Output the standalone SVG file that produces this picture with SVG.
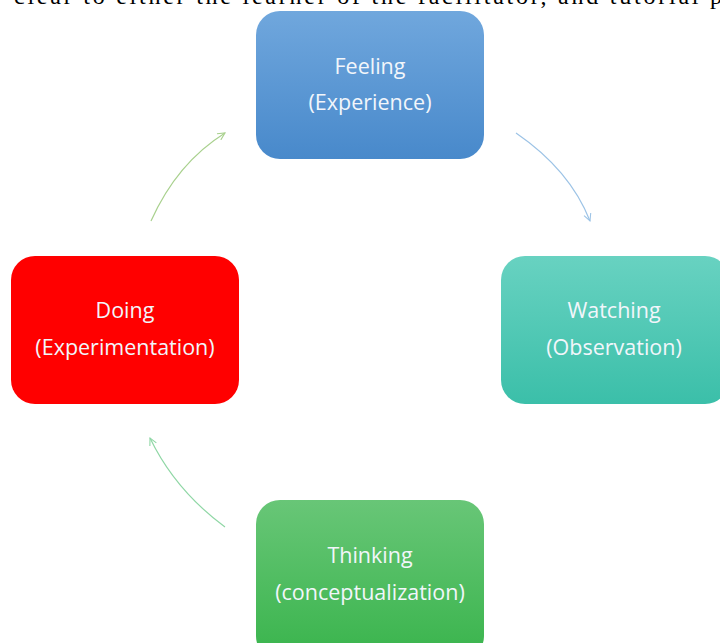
<svg xmlns="http://www.w3.org/2000/svg" width="720" height="643" viewBox="0 0 720 643">
<style>
.lbl{font-family:"Open Sans","Noto Sans",sans-serif;font-size:21.5px;fill:#f2f6fb;text-anchor:middle}
.conn{fill:none;stroke-width:1.2}
.top{font-family:"Liberation Serif",serif;font-size:24px;fill:#000}
</style>
<defs>
<linearGradient id="gBlue" x1="0" y1="0" x2="0" y2="1"><stop offset="0" stop-color="#70a7dd"/><stop offset="1" stop-color="#4889cb"/></linearGradient>
<linearGradient id="gTeal" x1="0" y1="0" x2="0" y2="1"><stop offset="0" stop-color="#68d2c1"/><stop offset="1" stop-color="#3bbfa9"/></linearGradient>
<linearGradient id="gGreen" x1="0" y1="0" x2="0" y2="1"><stop offset="0" stop-color="#68c677"/><stop offset="1" stop-color="#39b44c"/></linearGradient>
<marker id="aBlue" viewBox="0 0 10 10" refX="9" refY="5" markerWidth="9" markerHeight="9" orient="auto" markerUnits="userSpaceOnUse"><path d="M1,1 L9,5 L1,9" fill="none" stroke="#9cc3e6" stroke-width="1.2"/></marker>
<marker id="aGreen1" viewBox="0 0 10 10" refX="9" refY="5" markerWidth="9" markerHeight="9" orient="auto" markerUnits="userSpaceOnUse"><path d="M1,1 L9,5 L1,9" fill="none" stroke="#a9d18e" stroke-width="1.2"/></marker>
<marker id="aGreen2" viewBox="0 0 10 10" refX="9" refY="5" markerWidth="9" markerHeight="9" orient="auto" markerUnits="userSpaceOnUse"><path d="M1,1 L9,5 L1,9" fill="none" stroke="#8fd7a5" stroke-width="1.2"/></marker>
</defs>
<rect width="720" height="643" fill="#fff"/>
<text class="top" x="14" y="4" textLength="708" lengthAdjust="spacing">clear to either the learner of the facilitator, and tutorial p</text>
<g id="connectors">
<path class="conn" d="M516,133 Q570,170 590,221" stroke="#9cc3e6" marker-end="url(#aBlue)"/>
<path class="conn" d="M151,221 Q177,163 225,133" stroke="#a9d18e" marker-end="url(#aGreen1)"/>
<path class="conn" d="M225,527 Q175,490 150,438" stroke="#8fd7a5" marker-end="url(#aGreen2)"/>
</g>
<g id="feeling">
<rect x="256" y="11" width="228" height="148" rx="24" fill="url(#gBlue)"/>
<text class="lbl" x="370" y="74">Feeling</text>
<text class="lbl" x="370" y="110">(Experience)</text>
</g>
<g id="watching">
<rect x="501" y="256" width="228" height="148" rx="24" fill="url(#gTeal)"/>
<text class="lbl" x="614" y="318">Watching</text>
<text class="lbl" x="614" y="355">(Observation)</text>
</g>
<g id="doing">
<rect x="11" y="256" width="228" height="148" rx="24" fill="#ff0000"/>
<text class="lbl" x="125" y="318">Doing</text>
<text class="lbl" x="125" y="355">(Experimentation)</text>
</g>
<g id="thinking">
<rect x="256" y="500" width="228" height="160" rx="24" fill="url(#gGreen)"/>
<text class="lbl" x="370" y="563">Thinking</text>
<text class="lbl" x="370" y="600">(conceptualization)</text>
</g>
</svg>
